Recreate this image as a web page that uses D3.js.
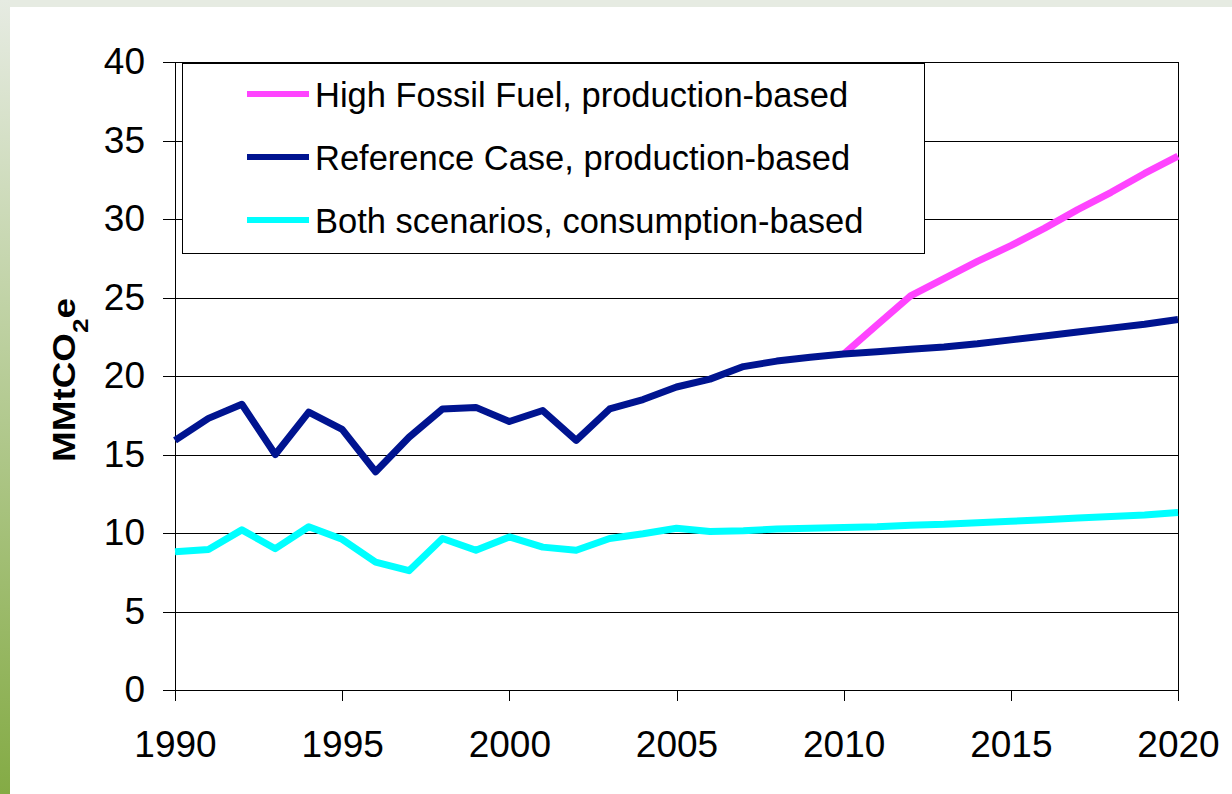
<!DOCTYPE html>
<html>
<head>
<meta charset="utf-8">
<script src="https://cdn.jsdelivr.net/npm/d3@7"></script>
<style>
  body { margin: 0; background: #fff; }
  svg { display: block; font-family: "Liberation Sans", Arial, sans-serif; }
  .axis path, .axis line { stroke: #000; shape-rendering: crispEdges; }
  .axis text { font-size: 37px; fill: #000; }
</style>
</head>
<body>
<div id="chart"></div>
<script>
// chart data
const years = [1990, 1991, 1992, 1993, 1994, 1995, 1996, 1997, 1998, 1999,
               2000, 2001, 2002, 2003, 2004, 2005, 2006, 2007, 2008, 2009,
               2010, 2011, 2012, 2013, 2014, 2015, 2016, 2017, 2018, 2019, 2020];
const referenceCase = [15.9, 17.3, 18.2, 15.0, 17.7, 16.6, 13.9, 16.1, 17.9, 18.0,
                       17.1, 17.8, 15.9, 17.9, 18.5, 19.3, 19.8, 20.6, 20.95, 21.2,
                       21.4, 21.55, 21.7, 21.85, 22.05, 22.3, 22.55, 22.8, 23.05, 23.3, 23.6];
const consumptionBased = [8.8, 8.95, 10.2, 9.0, 10.4, 9.6, 8.15, 7.6, 9.65, 8.9,
                          9.75, 9.1, 8.9, 9.65, 9.95, 10.3, 10.1, 10.15, 10.25, 10.3,
                          10.35, 10.4, 10.5, 10.55, 10.65, 10.75, 10.85, 10.95, 11.05, 11.15, 11.3];
const highFossilYears = [2010, 2011, 2012, 2013, 2014, 2015, 2016, 2017, 2018, 2019, 2020];
const highFossil = [21.4, 23.25, 25.1, 26.2, 27.3, 28.3, 29.4, 30.6, 31.7, 32.9, 34.0];

const xTicks = [1990, 1995, 2000, 2005, 2010, 2015, 2020];
const yTicks = [0, 5, 10, 15, 20, 25, 30, 35, 40];
const seriesNames = ["High Fossil Fuel, production-based",
                     "Reference Case, production-based",
                     "Both scenarios, consumption-based"];

const W = 1232, H = 794;
const margin = { top: 62, right: 54, bottom: 104, left: 175 };
const width = W - margin.left - margin.right,
      height = H - margin.top - margin.bottom;

const colors = {
    high: "#ff44ff",
    ref: "#001490",
    cons: "#00ffff"
};

const svgRoot = d3.select("#chart").append("svg")
    .attr("width", W)
    .attr("height", H);

// slide background: light strip on top, green gradient on the left
const grad = svgRoot.append("defs").append("linearGradient")
    .attr("id", "sideGrad")
    .attr("x1", 0).attr("y1", 0).attr("x2", 0).attr("y2", 1);
grad.append("stop").attr("offset", "0%").attr("stop-color", "#e6ebe2");
grad.append("stop").attr("offset", "100%").attr("stop-color", "#84ab45");

svgRoot.append("rect").attr("x", 0).attr("y", 0).attr("width", W).attr("height", 7)
    .attr("fill", "#e6ebe2");
svgRoot.append("rect").attr("x", 0).attr("y", 0).attr("width", 10).attr("height", H)
    .attr("fill", "url(#sideGrad)");

const svg = svgRoot.append("g")
    .attr("transform", `translate(${margin.left},${margin.top})`);

const x = d3.scaleLinear().domain([1990, 2020]).range([0, width]);
const y = d3.scaleLinear().domain([0, 40]).range([height, 0]);

// gridlines
svg.append("g")
    .selectAll("line")
    .data(yTicks.filter(d => d > 0))
    .enter().append("line")
    .attr("x1", 0)
    .attr("x2", width)
    .attr("y1", d => Math.round(y(d)) + 0.5)
    .attr("y2", d => Math.round(y(d)) + 0.5)
    .attr("stroke", "#000")
    .attr("stroke-width", 1);

// right border
svg.append("line")
    .attr("x1", width + 0.5).attr("x2", width + 0.5)
    .attr("y1", 0).attr("y2", height)
    .attr("stroke", "#000");

svg.append("g")
    .attr("class", "x axis")
    .attr("transform", `translate(0,${height})`)
    .call(d3.axisBottom(x).tickValues(xTicks).tickFormat(d3.format("d"))
        .tickSize(11).tickSizeOuter(0).tickPadding(30));

svg.append("g")
    .attr("class", "y axis")
    .call(d3.axisLeft(y).tickValues(yTicks).tickSize(12).tickSizeOuter(0).tickPadding(18));

svg.selectAll(".axis .domain").attr("stroke-width", 1.2);

// y axis title
const title = svg.append("text")
    .attr("transform", `translate(${75 - margin.left},${380 - margin.top}) rotate(-90)`)
    .attr("text-anchor", "middle")
    .attr("textLength", 164)
    .attr("lengthAdjust", "spacingAndGlyphs")
    .style("font-size", "31px")
    .style("font-weight", "bold");
title.append("tspan").text("MMtCO");
title.append("tspan").attr("baseline-shift", "sub").style("font-size", "22px").text("2");
title.append("tspan").text("e");

// legend box
const legend = svg.append("g").attr("class", "legend");
legend.append("rect")
    .attr("x", 7.5)
    .attr("y", 1.5)
    .attr("width", 742)
    .attr("height", 190)
    .attr("fill", "#fff")
    .attr("stroke", "#000")
    .attr("stroke-width", 1);

const legendItems = [
    { name: seriesNames[0], color: colors.high },
    { name: seriesNames[1], color: colors.ref },
    { name: seriesNames[2], color: colors.cons }
];

const li = legend.selectAll(".item")
    .data(legendItems)
    .enter().append("g")
    .attr("class", "item")
    .attr("transform", (d, i) => `translate(0,${32 + i * 63})`);

li.append("line")
    .attr("x1", 72).attr("x2", 134)
    .attr("y1", 0).attr("y2", 0)
    .attr("stroke", d => d.color)
    .attr("stroke-width", 6);

li.append("text")
    .attr("x", 140)
    .attr("y", 0)
    .attr("dy", "0.37em")
    .style("font-size", "34.5px")
    .text(d => d.name);

// series
const line = d3.line()
    .x(d => x(d.year))
    .y(d => y(d.value));

const seriesData = [
    { key: "high", values: highFossilYears.map((yr, i) => ({ year: yr, value: highFossil[i] })) },
    { key: "ref", values: years.map((yr, i) => ({ year: yr, value: referenceCase[i] })) },
    { key: "cons", values: years.map((yr, i) => ({ year: yr, value: consumptionBased[i] })) }
];

svg.selectAll(".series")
    .data(seriesData)
    .enter().append("path")
    .attr("class", d => `series line-${d.key}`)
    .attr("d", d => line(d.values))
    .attr("fill", "none")
    .attr("stroke", d => colors[d.key])
    .attr("stroke-width", 7)
    .attr("stroke-linejoin", "round");
</script>
</body>
</html>
